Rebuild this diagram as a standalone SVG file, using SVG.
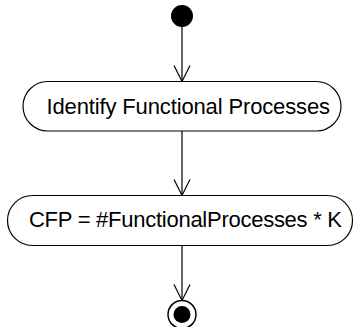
<svg xmlns="http://www.w3.org/2000/svg" width="354" height="327" viewBox="0 0 354 327">
  <style>
    .action { fill: #ffffff; stroke: #000000; stroke-width: 1.2; }
    .label { font-family: "Liberation Sans", Arial, sans-serif; font-size: 22px; fill: #000000; }
    .flow { fill: none; stroke: #000000; stroke-width: 1.2; }
  </style>
  <defs>
    <marker id="open-arrow" viewBox="0 0 18 18" refX="17" refY="9" markerWidth="18" markerHeight="18" markerUnits="userSpaceOnUse" orient="auto">
      <path d="M1,1 L17,9 L1,17" fill="none" stroke="#000000" stroke-width="1.2"/>
    </marker>
  </defs>
  <rect width="354" height="327" fill="#ffffff"/>

  <g id="connectors">
    <line class="flow" x1="182" y1="27" x2="182" y2="81.5" marker-end="url(#open-arrow)"/>
    <line class="flow" x1="182" y1="131" x2="182" y2="195.5" marker-end="url(#open-arrow)"/>
    <line class="flow" x1="182" y1="246" x2="182" y2="300.5" marker-end="url(#open-arrow)"/>
  </g>

  <g id="start">
    <circle cx="182" cy="16" r="11" fill="#000000"/>
  </g>

  <g id="identify-processes">
    <rect class="action" x="23" y="81.5" width="318" height="49.5" rx="24.75" ry="24.75"/>
    <text class="label" x="46.5" y="113.5" textLength="283.5" lengthAdjust="spacing">Identify Functional Processes</text>
  </g>

  <g id="compute-cfp">
    <rect class="action" x="7.5" y="195.5" width="345" height="50" rx="25" ry="25"/>
    <text class="label" x="29" y="227" textLength="313" lengthAdjust="spacing">CFP = #FunctionalProcesses * K</text>
  </g>

  <g id="end">
    <circle cx="182" cy="314.5" r="14" fill="#ffffff" stroke="#000000" stroke-width="1.5"/>
    <circle cx="182" cy="314.5" r="8.5" fill="#000000"/>
  </g>
</svg>
